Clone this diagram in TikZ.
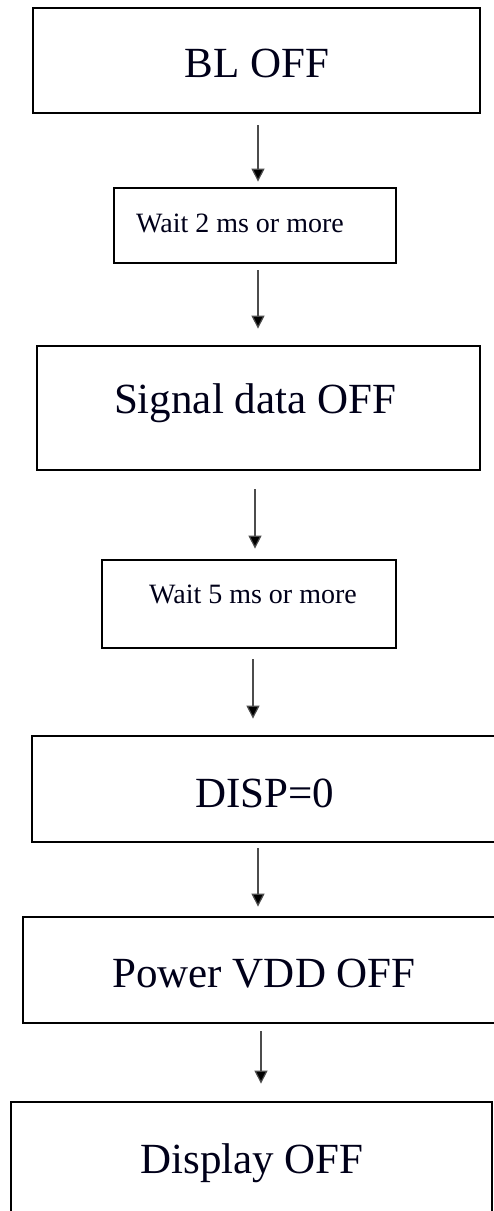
\documentclass[tikz,border=0pt]{standalone}
\usepackage{fontspec}
\setmainfont{Liberation Serif}
\usetikzlibrary{arrows.meta}
\begin{document}
\begin{tikzpicture}[x=1pt,y=-1pt,
  stepbox/.style={draw=black,line width=2.8pt,rectangle,inner sep=0pt},
  bigtxt/.style={anchor=base,inner sep=0pt,font=\fontsize{43}{48}\selectfont,text=black!90!blue},
  smalltxt/.style={anchor=base,inner sep=0pt,font=\fontsize{28}{32}\selectfont,text=black!90!blue},
  arr/.style={draw=black!70,line width=1.2pt,-{Triangle[width=13pt,length=13pt,fill=black]}}]
\useasboundingbox (0,0) rectangle (494,1211);
\clip (0,0) rectangle (494,1211);
\fill[white] (0,0) rectangle (494,1211);
% boxes
\node[stepbox,minimum width=447pt,minimum height=105pt] (b1) at (256.5,60.5) {};
\node[stepbox,minimum width=282pt,minimum height=75pt] (b2) at (255,225.5) {};
\node[stepbox,minimum width=443pt,minimum height=124pt] (b3) at (258.5,408) {};
\node[stepbox,minimum width=294pt,minimum height=88pt] (b4) at (249,604) {};
\node[stepbox,minimum width=468pt,minimum height=106pt] (b5) at (266,789) {};
\node[stepbox,minimum width=477pt,minimum height=106pt] (b6) at (261.5,970) {};
\node[stepbox,minimum width=481pt,minimum height=118pt] (b7) at (251.5,1161) {};
% texts
\node[bigtxt] (t1) at (257,77) {BL OFF};
\node[smalltxt] (t2) at (240,232) {Wait 2 ms or more};
\node[bigtxt] (t3) at (255,413) {Signal data OFF};
\node[smalltxt] (t4) at (253,603) {Wait 5 ms or more};
\node[bigtxt] (t5) at (265,807) {DISP=0};
\node[bigtxt] (t6) at (264,987) {Power VDD OFF};
\node[bigtxt] (t7) at (252,1173) {Display OFF};
% arrows
\draw[arr] ([xshift=1.5pt,yshift=-11pt]b1.south) -- ([xshift=3pt,yshift=5pt]b2.north);
\draw[arr] ([xshift=3pt,yshift=-6pt]b2.south) -- ([xshift=-0.5pt,yshift=16pt]b3.north);
\draw[arr] ([xshift=-3.5pt,yshift=-18pt]b3.south) -- ([xshift=6pt,yshift=10pt]b4.north);
\draw[arr] ([xshift=4pt,yshift=-10pt]b4.south) -- ([xshift=-13pt,yshift=16pt]b5.north);
\draw[arr] ([xshift=-8pt,yshift=-5pt]b5.south) -- ([xshift=-3.5pt,yshift=9pt]b6.north);
\draw[arr] ([xshift=-0.5pt,yshift=-7pt]b6.south) -- ([xshift=9.5pt,yshift=17pt]b7.north);
\end{tikzpicture}
\end{document}
